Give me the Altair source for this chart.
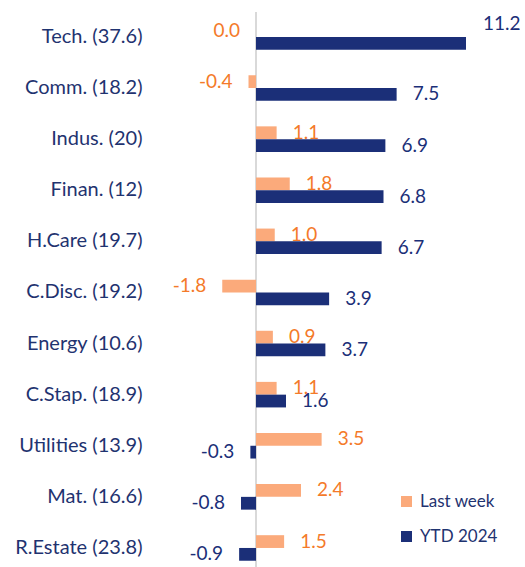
import altair as alt
import pandas as pd

categories = ["Tech. (37.6)", "Comm. (18.2)", "Indus. (20)", "Finan. (12)", "H.Care (19.7)",
              "C.Disc. (19.2)", "Energy (10.6)", "C.Stap. (18.9)", "Utilities (13.9)",
              "Mat. (16.6)", "R.Estate (23.8)"]
last_week = [0.0, -0.4, 1.1, 1.8, 1.0, -1.8, 0.9, 1.1, 3.5, 2.4, 1.5]
ytd_2024 = [11.2, 7.5, 6.9, 6.8, 6.7, 3.9, 3.7, 1.6, -0.3, -0.8, -0.9]
series = ["Last week", "YTD 2024"]

rows = []
for c, a, b in zip(categories, last_week, ytd_2024):
    rows.append({"category": c, "series": series[0], "value": a, "label": f"{a:.1f}"})
    rows.append({"category": c, "series": series[1], "value": b, "label": f"{b:.1f}"})
df = pd.DataFrame(rows)

NAVY = "#1b2f78"
LABEL_NAVY = "#1f3370"
ORANGE_BAR = "#fbaa7b"
ORANGE_TEXT = "#f47a2a"
FONT = "Lato"

y_enc = alt.Y("category:N", sort=categories, title=None,
              scale=alt.Scale(paddingInner=0.5, paddingOuter=0.18, align=0.66),
              axis=alt.Axis(domain=False, ticks=False, labelPadding=9, labelFontSize=20,
                            labelColor=LABEL_NAVY, labelFont=FONT, grid=False))
yoff = alt.YOffset("series:N", sort=series, scale=alt.Scale(paddingInner=0, paddingOuter=0))
x_scale = alt.Scale(domain=[-5.6, 14.08], nice=False, zero=False)

base = alt.Chart(df)

rule = alt.Chart(pd.DataFrame({"z": [0]})).mark_rule(color="#d9d9d9", strokeWidth=2).encode(
    x=alt.X("z:Q", scale=x_scale, axis=None), y=alt.value(0), y2=alt.value(555))

bars = base.mark_bar().encode(
    y=y_enc, yOffset=yoff,
    x=alt.X("value:Q", scale=x_scale, axis=None),
    color=alt.Color("series:N", sort=series,
                    scale=alt.Scale(domain=series, range=[ORANGE_BAR, NAVY]),
                    legend=alt.Legend(title=None, orient="none", legendX=247, legendY=481,
                                      symbolType="square", symbolSize=121, symbolStrokeWidth=0,
                                      labelFontSize=17, labelFont=FONT, labelColor=LABEL_NAVY,
                                      labelOffset=5, rowPadding=17, padding=0)))

text_color = alt.condition(alt.datum.series == "Last week", alt.value(ORANGE_TEXT), alt.value(NAVY))
is_special = "datum.category == 'Tech. (37.6)' && datum.series == 'YTD 2024'"

pos_text = base.transform_filter(f"datum.value > 0 && !({is_special})").mark_text(
    align="left", baseline="middle", dx=16, fontSize=19, font=FONT).encode(
    y=y_enc, yOffset=yoff, x=alt.X("value:Q", scale=x_scale, axis=None),
    text="label:N", color=text_color)

neg_text = base.transform_filter("datum.value <= 0").mark_text(
    align="right", baseline="middle", dx=-16, fontSize=19, font=FONT).encode(
    y=y_enc, yOffset=yoff, x=alt.X("value:Q", scale=x_scale, axis=None),
    text="label:N", color=text_color)

special_text = base.transform_filter(is_special).mark_text(
    align="left", baseline="middle", dx=17, dy=-19, fontSize=19, font=FONT).encode(
    y=y_enc, yOffset=yoff, x=alt.X("value:Q", scale=x_scale, axis=None),
    text="label:N", color=text_color)

chart = alt.layer(rule, bars, pos_text, neg_text, special_text).properties(
    width=369, height=555,
    autosize=alt.AutoSizeParams(type="none"),
    padding={"left": 151, "top": 12, "right": 0, "bottom": 0},
    background="white",
).configure_view(stroke=None)

chart.save("out.html", embed_options={"renderer": "svg", "actions": False})
